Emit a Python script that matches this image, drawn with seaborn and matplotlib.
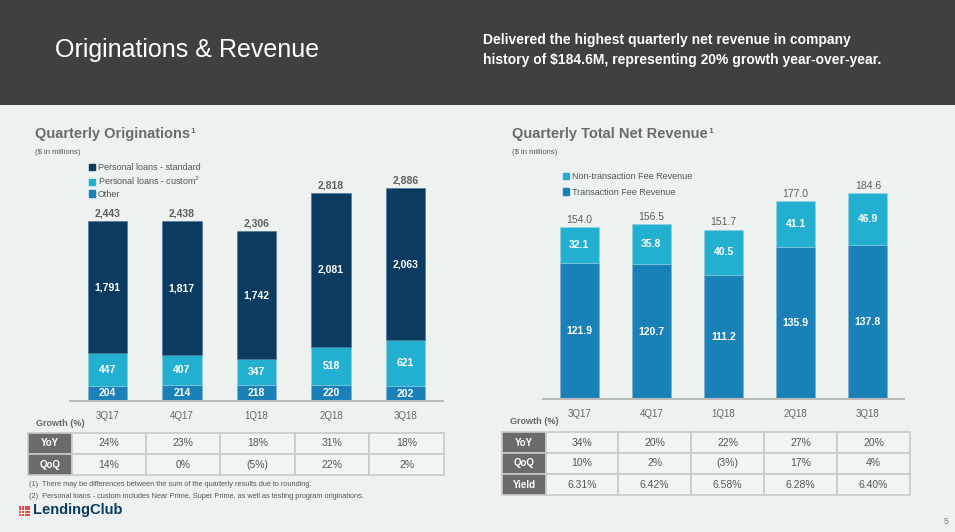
import matplotlib
matplotlib.use("Agg")
import matplotlib.pyplot as plt
from matplotlib.patches import Rectangle, Patch
from matplotlib.text import Annotation
import seaborn as sns
import numpy as np

# ---- data ----
quarters = ["3Q17", "4Q17", "1Q18", "2Q18", "3Q18"]
orig_other = [204, 214, 218, 220, 202]
orig_custom = [447, 407, 347, 518, 621]
orig_standard = [1791, 1817, 1742, 2081, 2063]
orig_total = ["2,443", "2,438", "2,306", "2,818", "2,886"]

rev_transaction = [121.9, 120.7, 111.2, 135.9, 137.8]
rev_nontransaction = [32.1, 35.8, 40.5, 41.1, 46.9]
rev_total = [154.0, 156.5, 151.7, 177.0, 184.6]

orig_yoy = ["24%", "23%", "18%", "31%", "18%"]
orig_qoq = ["14%", "0%", "(5%)", "22%", "2%"]
rev_yoy = ["34%", "20%", "22%", "27%", "20%"]
rev_qoq = ["10%", "2%", "(3%)", "17%", "4%"]
rev_yield = ["6.31%", "6.42%", "6.58%", "6.28%", "6.40%"]

# ---- style ----
sns.set_style("white")
plt.rcParams["font.family"] = ["Liberation Sans", "DejaVu Sans"]

BG = "#EDF2F0"
NAVY = "#0B3B60"
CYAN = "#23AFCF"
BLUE = "#1A80B8"
GRAY = "#5E5E5E"

W, H = 955, 532
fig = plt.figure(figsize=(W / 100, H / 100), dpi=100, facecolor=BG)


def fx(x):
    return x / W


def fy(y):
    return 1 - y / H


# header band
fig.patches.append(Rectangle((0, fy(105)), 1, 105 / H, transform=fig.transFigure,
                             facecolor="#404040", edgecolor="none", zorder=0))
fig.text(fx(55), fy(50), "Originations & Revenue", color="white", fontsize=18,
         va="center", ha="left")
fig.text(fx(483), fy(40), "Delivered the highest quarterly net revenue in company",
         color="white", fontsize=10, fontweight="bold", va="center")
fig.text(fx(483), fy(60), "history of $184.6M, representing 20% growth year-over-year.",
         color="white", fontsize=10, fontweight="bold", va="center")


def style_ax(ax):
    ax.set_facecolor("none")
    for s in ["top", "left", "right"]:
        ax.spines[s].set_visible(False)
    ax.spines["bottom"].set_color("#BBBBBB")
    ax.spines["bottom"].set_linewidth(1.5)
    ax.set_yticks([])
    ax.set_xlim(-0.5, 4.5)
    ax.tick_params(axis="x", length=0, pad=7, labelsize=7, labelcolor="#666666")
    ax.set_xlabel("")
    ax.set_ylabel("")


# ---- left chart: originations ----
ax1 = fig.add_axes([fx(70), 1 - 401 / H, 373 / W, 251 / H])
b1 = np.array(orig_other)
b2 = b1 + np.array(orig_custom)
sns.barplot(x=quarters, y=orig_other, color=BLUE, width=0.53, ax=ax1,
            saturation=1, edgecolor="#7FB0D0", linewidth=0.4)
sns.barplot(x=quarters, y=orig_custom, bottom=b1, color=CYAN, width=0.53, ax=ax1,
            saturation=1, edgecolor="#8FD0E0", linewidth=0.4)
sns.barplot(x=quarters, y=orig_standard, bottom=b2, color=NAVY, width=0.53, ax=ax1,
            saturation=1, edgecolor="#4A6F90", linewidth=0.4)
ax1.set_ylim(0, 3407)
style_ax(ax1)
for i in range(len(quarters)):
    top = b2[i] + orig_standard[i]
    ax1.text(i, orig_other[i] / 2, str(orig_other[i]), ha="center", va="center",
             color="white", fontsize=7.5, fontweight="bold")
    ax1.text(i, b1[i] + orig_custom[i] / 2, str(orig_custom[i]), ha="center",
             va="center", color="white", fontsize=7.5, fontweight="bold")
    ax1.text(i, b2[i] + orig_standard[i] / 2, f"{orig_standard[i]:,}", ha="center",
             va="center", color="white", fontsize=7.5, fontweight="bold")
    ax1.text(i, top + 105, orig_total[i], ha="center", va="center",
             color=GRAY, fontsize=7.5, fontweight="bold")

fig.legend(handles=[Patch(color=NAVY, label="Personal loans - standard"),
                    Patch(color=CYAN, label="Personal loans - custom$^2$"),
                    Patch(color=BLUE, label="Other")],
           loc="upper left", bbox_to_anchor=(fx(89), fy(163)), frameon=False,
           fontsize=6.5, handlelength=0.7, handleheight=0.7, handletextpad=0.3,
           labelspacing=0.3, borderpad=0, borderaxespad=0, labelcolor="#555555")

t1 = fig.text(fx(35), fy(134), "Quarterly Originations", color="#6B6B6B",
              fontsize=10.5, fontweight="bold", va="center")
fig.text(fx(35), fy(152), "($ in millions)", color="#555555", fontsize=5.5, va="center")

# ---- right chart: net revenue ----
ax2 = fig.add_axes([fx(543), 1 - 399 / H, 361 / W, 249 / H])
sns.barplot(x=quarters, y=rev_transaction, color=BLUE, width=0.54, ax=ax2,
            saturation=1, edgecolor="#7FB0D0", linewidth=0.4)
sns.barplot(x=quarters, y=rev_nontransaction, bottom=rev_transaction, color=CYAN,
            width=0.54, ax=ax2, saturation=1, edgecolor="#8FD0E0", linewidth=0.4)
ax2.set_ylim(0, 222.9)
style_ax(ax2)
for i in range(len(quarters)):
    ax2.text(i, rev_transaction[i] / 2, f"{rev_transaction[i]:.1f}", ha="center",
             va="center", color="white", fontsize=7.5, fontweight="bold")
    ax2.text(i, rev_transaction[i] + rev_nontransaction[i] / 2,
             f"{rev_nontransaction[i]:.1f}", ha="center", va="center",
             color="white", fontsize=7.5, fontweight="bold")
    ax2.text(i, rev_total[i] + 6.5, f"{rev_total[i]:.1f}", ha="center", va="center",
             color=GRAY, fontsize=7.5)

fig.legend(handles=[Patch(color=CYAN, label="Non-transaction Fee Revenue"),
                    Patch(color=BLUE, label="Transaction Fee Revenue")],
           loc="upper left", bbox_to_anchor=(fx(563), fy(172)), frameon=False,
           fontsize=6.5, handlelength=0.7, handleheight=0.7, handletextpad=0.3,
           labelspacing=0.75, borderpad=0, borderaxespad=0, labelcolor="#555555")

t2 = fig.text(fx(512), fy(134), "Quarterly Total Net Revenue", color="#6B6B6B",
              fontsize=10.5, fontweight="bold", va="center")
fig.text(fx(512), fy(153), "($ in millions)", color="#555555", fontsize=5.5, va="center")

# superscript footnote marks right after the section titles
for t in (t1, t2):
    fig.add_artist(Annotation(
        "1", xy=(1, 1), xycoords=t, xytext=(0.5, -1), textcoords="offset points",
        va="top", ha="left", color="#6B6B6B", fontsize=6, fontweight="bold"))


# ---- growth tables ----
def draw_table(x_label, x_edges, y_edges, labels, rows):
    for r, (lab, vals) in enumerate(zip(labels, rows)):
        y0, y1 = y_edges[r], y_edges[r + 1]
        fig.patches.append(Rectangle((fx(x_label), fy(y1)), (x_edges[0] - x_label) / W,
                                     (y1 - y0) / H, transform=fig.transFigure,
                                     facecolor="#6B6B6B", edgecolor="#C8C8C8",
                                     linewidth=1.2))
        fig.text(fx((x_label + x_edges[0]) / 2), fy((y0 + y1) / 2), lab, color="white",
                 fontsize=7, fontweight="bold", ha="center", va="center")
        for c, v in enumerate(vals):
            xa, xb = x_edges[c], x_edges[c + 1]
            fig.patches.append(Rectangle((fx(xa), fy(y1)), (xb - xa) / W, (y1 - y0) / H,
                                         transform=fig.transFigure, facecolor="#F0F4F3",
                                         edgecolor="#C8C8C8", linewidth=1.2))
            fig.text(fx((xa + xb) / 2), fy((y0 + y1) / 2), v, color="#555555",
                     fontsize=7.5, ha="center", va="center")


draw_table(28, [72, 146, 220, 295, 369, 444], [433, 454, 475],
           ["YoY", "QoQ"], [orig_yoy, orig_qoq])
draw_table(502, [546, 618, 691, 764, 837, 910], [432, 453, 474, 495],
           ["YoY", "QoQ", "Yield"], [rev_yoy, rev_qoq, rev_yield])

fig.text(fx(36), fy(423), "Growth (%)", color="#666666", fontsize=6.5,
         fontweight="bold", va="center")
fig.text(fx(510), fy(421), "Growth (%)", color="#666666", fontsize=6.5,
         fontweight="bold", va="center")

# footnotes
fig.text(fx(29), fy(484), "(1)  There may be differences between the sum of the quarterly "
         "results due to rounding.", color="#555555", fontsize=5.3, va="center")
fig.text(fx(29), fy(496), "(2)  Personal loans - custom includes Near Prime, Super Prime, "
         "as well as testing program originations.", color="#555555", fontsize=5.3,
         va="center")

# logo
for gi in range(4):
    for gj in range(4):
        fig.patches.append(Rectangle((fx(19 + gi * 2.8), fy(516 - gj * 2.8)), 2.1 / W,
                                     2.1 / H, transform=fig.transFigure,
                                     facecolor="#E8473C", edgecolor="none"))
fig.text(fx(33), fy(510), "LendingClub", color=NAVY, fontsize=10.5,
         fontweight="bold", va="center")

fig.text(fx(946), fy(521), "5", color="#777777", fontsize=6.5, ha="center", va="center")

fig.savefig("out.png", dpi=100, facecolor=BG)
